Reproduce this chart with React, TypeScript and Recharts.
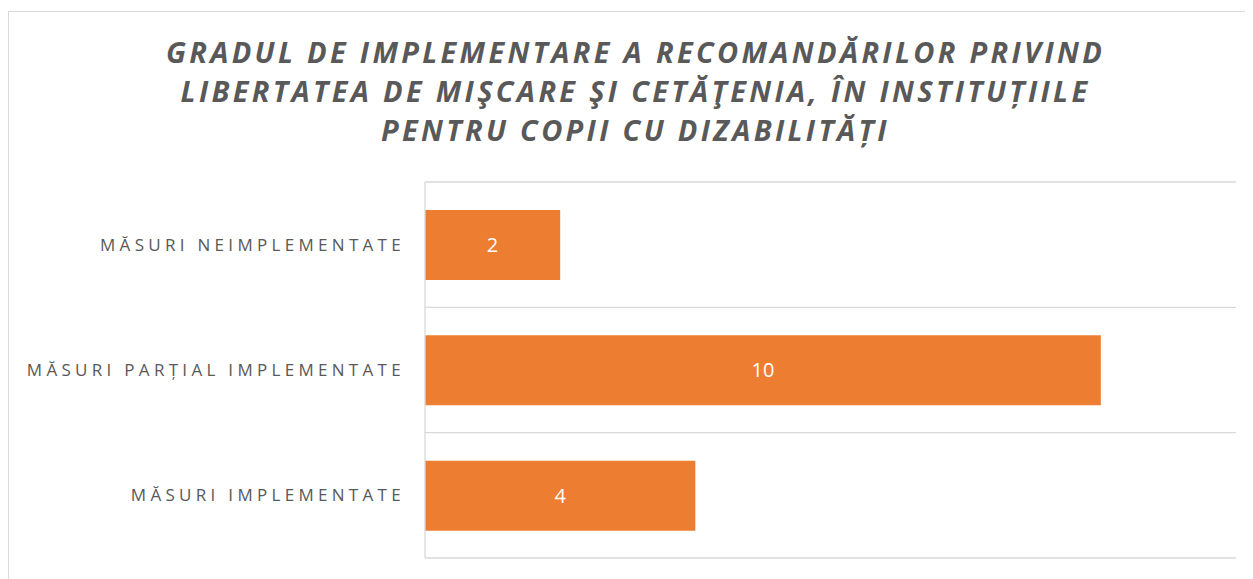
import React from "react";
import { BarChart, Bar, XAxis, YAxis, CartesianGrid, LabelList } from "recharts";

const titleLines = [
  "GRADUL DE IMPLEMENTARE A RECOMANDĂRILOR PRIVIND",
  "LIBERTATEA DE MIŞCARE ŞI CETĂŢENIA, ÎN INSTITUȚIILE",
  "PENTRU COPII CU DIZABILITĂȚI",
];
const categories = ["MĂSURI NEIMPLEMENTATE", "MĂSURI PARȚIAL IMPLEMENTATE", "MĂSURI IMPLEMENTATE"];
const values = [2, 10, 4];
const xDomain: [number, number] = [0, 12];

const data = categories.map((name, i) => ({ name, value: values[i] }));

const FONT = "'Open Sans', 'Noto Sans', sans-serif";
const GRID = "#d9d9d9";
const TEXT = "#595959";
const BAR = "#ed7d31";

const gridGen = ({ offset }: any) => {
  const n = categories.length;
  const out: number[] = [];
  for (let i = 0; i <= n; i++) out.push(offset.top + (offset.height * i) / n);
  return out;
};

export default function App() {
  return (
    <div
      style={{
        position: "relative",
        width: 1245,
        height: 568,
        marginTop: 3,
        borderTop: `1px solid ${GRID}`,
        borderLeft: `1px solid ${GRID}`,
        boxSizing: "border-box",
        overflow: "hidden",
        background: "#fff",
      }}
    >
      <div
        style={{
          position: "absolute",
          left: 0,
          top: 20,
          width: 1253,
          textAlign: "center",
          fontFamily: FONT,
          fontWeight: 700,
          fontStyle: "italic",
          fontSize: 29,
          lineHeight: "39px",
          letterSpacing: 3.3,
          color: TEXT,
          whiteSpace: "nowrap",
        }}
      >
        {titleLines.map((l) => (
          <div key={l}>{l}</div>
        ))}
      </div>
      <div style={{ position: "absolute", left: 0, top: 0 }}>
        <BarChart
          width={1244}
          height={567}
          data={data}
          layout="vertical"
          margin={{ top: 170, right: 17, bottom: 21, left: 0 }}
          barSize={70}
        >
          <CartesianGrid
            vertical={false}
            stroke={GRID}
            strokeWidth={1.3}
            horizontalCoordinatesGenerator={gridGen}
          />
          <XAxis type="number" domain={xDomain} hide />
          <YAxis
            type="category"
            dataKey="name"
            width={416}
            axisLine={{ stroke: GRID, strokeWidth: 1.3 }}
            tickLine={false}
            tickSize={0}
            tickMargin={20}
            tick={{ fill: TEXT, fontSize: 17, fontFamily: FONT, letterSpacing: 4.3 }}
          />
          <Bar dataKey="value" fill={BAR} isAnimationActive={false}>
            <LabelList
              dataKey="value"
              position="center"
              fill="#ffffff"
              style={{ fontSize: 20, fontFamily: FONT }}
            />
          </Bar>
        </BarChart>
      </div>
    </div>
  );
}
